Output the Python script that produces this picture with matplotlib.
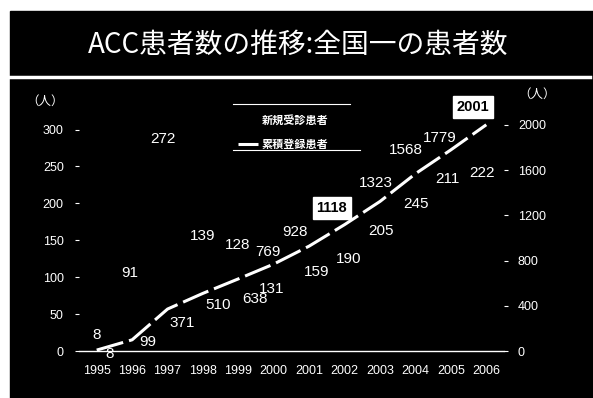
import matplotlib as mpl
import matplotlib.pyplot as plt
from matplotlib.patches import Rectangle
from matplotlib.lines import Line2D
import numpy as np

years = ["1995", "1996", "1997", "1998", "1999", "2000",
         "2001", "2002", "2003", "2004", "2005", "2006"]
new_patients = [8, 91, 272, 139, 128, 131, 159, 190, 205, 245, 211, 222]
cumulative = [8, 99, 371, 510, 638, 769, 928, 1118, 1323, 1568, 1779, 2001]
boxed = ["1118", "2001"]

# where the value labels sit (x offset from category, y in axis units)
new_lbl_dx = [0.0, -0.07, -0.14, 0.0, -0.01, -0.06, 0.2, 0.12, 0.02, 0.01, -0.11, -0.12]
new_lbl_y = [22, 106, 287, 156, 144, 84, 107, 125, 163, 199, 233, 241]
cum_lbl_dx = [0.37, 0.44, 0.4, 0.42, 0.46, -0.17, -0.41, -0.36, -0.12, -0.27, -0.31, -0.38]
cum_lbl_y = [-26, 80, 248, 407, 460, 876, 1053, 1265, 1486, 1778, 1884, 2158]

plt.rcParams['font.family'] = ['Liberation Sans', 'Noto Sans CJK JP', 'DejaVu Sans']

fig = plt.figure(figsize=(5.93, 3.98), dpi=100, facecolor='white')
fig.patches.append(Rectangle((10 / 593, 0), 1, (398 - 11) / 398,
                             transform=fig.transFigure, color='black', zorder=-5))
fig.add_artist(Line2D([8 / 593, 590 / 593], [1 - 77 / 398, 1 - 77 / 398],
                      color='white', lw=2.5))
fig.text(298 / 593, 1 - 45 / 398, "ACC患者数の推移:全国一の患者数", color='white',
         fontsize=20, ha='center', va='center',
         family=['Noto Sans CJK JP', 'DejaVu Sans'])

ax1 = fig.add_axes([79 / 593, 47 / 398, 425 / 593, 251 / 398])
ax1.set_facecolor('none')
ax2 = ax1.twinx()
ax2.set_facecolor('none')

x = np.arange(len(years))
bars = ax1.bar(x, new_patients, width=0.5, color='black', label='新規受診患者')
line, = ax2.plot(x, cumulative, color='white', lw=2.2, dashes=(9, 2),
                 label='累積登録患者')

ax1.set_xlim(-0.5, 11.5)
ax1.set_ylim(0, 340)
ax2.set_ylim(0, 2220)
ax1.set_yticks([0, 50, 100, 150, 200, 250, 300])
ax2.set_yticks([0, 400, 800, 1200, 1600, 2000])
ax1.set_xticks(x)
ax1.set_xticklabels(years)

for a in (ax1, ax2):
    for s in ('top', 'left', 'right'):
        a.spines[s].set_visible(False)
    a.spines['bottom'].set_color('white')
    a.spines['bottom'].set_linewidth(1)
ax2.spines['bottom'].set_visible(False)
ax1.tick_params(axis='x', length=0, colors='white', labelsize=9, pad=10)
ax1.tick_params(axis='y', length=3, colors='white', labelsize=9, pad=8)
ax2.tick_params(axis='y', length=3, colors='white', labelsize=9, pad=7)

fig.text(45 / 593, 1 - 101 / 398, "（人）", color='white', fontsize=9,
         ha='center', va='center', family=['Noto Sans CJK JP'])
fig.text(537 / 593, 1 - 94 / 398, "（人）", color='white', fontsize=9,
         ha='center', va='center', family=['Noto Sans CJK JP'])

for i, v in enumerate(new_patients):
    ax1.text(i + new_lbl_dx[i], new_lbl_y[i], str(v), color='white',
             fontsize=11, ha='center', va='center')

for i, v in enumerate(cumulative):
    s = str(v)
    if s in boxed:
        ax2.text(i + cum_lbl_dx[i], cum_lbl_y[i], s, color='black', fontsize=10.5,
                 fontweight='bold', ha='center', va='center',
                 bbox=dict(boxstyle='square,pad=0.25', fc='white', ec='white'))
    else:
        ax2.text(i + cum_lbl_dx[i], cum_lbl_y[i], s, color='white',
                 fontsize=11, ha='center', va='center')

leg = ax2.legend([bars, line], ['新規受診患者', '累積登録患者'],
                 loc='upper left', bbox_to_anchor=(228 / 593, 1 - 104 / 398),
                 bbox_transform=fig.transFigure, frameon=False,
                 prop={'family': ['Noto Sans CJK JP'], 'size': 8, 'weight': 'bold'},
                 labelcolor='white', handlelength=1.8, handletextpad=0.3,
                 labelspacing=1.0)
fig.add_artist(Line2D([233 / 593, 350 / 593], [1 - 104 / 398, 1 - 104 / 398],
                      color='white', lw=0.8))
fig.add_artist(Line2D([233 / 593, 360 / 593], [1 - 150 / 398, 1 - 150 / 398],
                      color='white', lw=0.8))

plt.savefig("out.png", dpi=100, facecolor=fig.get_facecolor())
